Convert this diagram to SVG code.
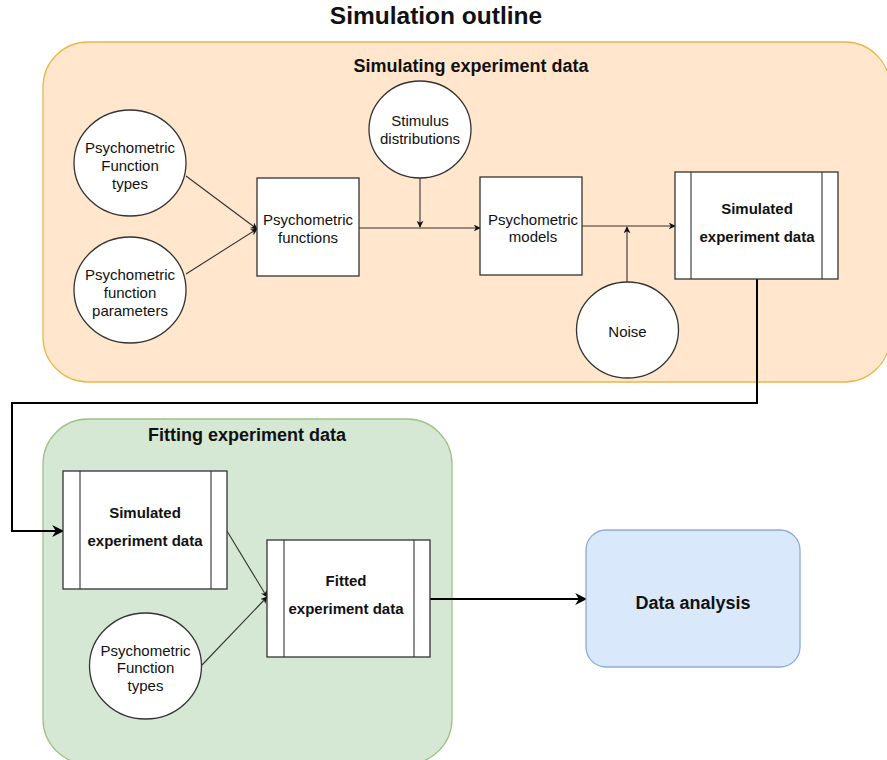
<svg xmlns="http://www.w3.org/2000/svg" width="887" height="760" viewBox="0 0 887 760">
<style>
text{font-family:"Liberation Sans",Arial,sans-serif;fill:#111;text-anchor:middle}
.n{font-size:15px}
.b{font-size:15px;font-weight:bold}
.h{font-size:18px;font-weight:bold}
.node{fill:#fff;stroke:#333;stroke-width:1.3}
.thin{fill:none;stroke:#333;stroke-width:1.1}
.thick{fill:none;stroke:#000;stroke-width:2}
</style>
<defs>
<marker id="a" viewBox="0 0 10 10" refX="9" refY="5" markerWidth="7" markerHeight="7" orient="auto" markerUnits="userSpaceOnUse">
<path d="M0,0 L10,5 L0,10 L3,5 z" fill="#111"/>
</marker>
<marker id="A" viewBox="0 0 10 10" refX="9" refY="5" markerWidth="12" markerHeight="12" orient="auto" markerUnits="userSpaceOnUse">
<path d="M0,0 L10,5 L0,10 L3,5 z" fill="#000"/>
</marker>
</defs>
<rect width="887" height="760" fill="#fff"/>
<text x="436" y="24" style="font-size:24.5px;font-weight:bold">Simulation outline</text>

<g id="sim-group">
<rect x="43" y="42" width="847" height="340" rx="45" fill="#ffe6cc" stroke="#eab84a" stroke-width="1.3"/>
<text class="h" x="471" y="72">Simulating experiment data</text>
</g>
<g id="fit-group">
<rect x="43" y="419" width="409" height="345" rx="45" fill="#d5e8d4" stroke="#9dc386" stroke-width="1.3"/>
<text class="h" x="247" y="441">Fitting experiment data</text>
</g>

<g id="connectors">
<path class="thin" d="M186,176 L257,229" marker-end="url(#a)"/>
<path class="thin" d="M186,274 L257,229" marker-end="url(#a)"/>
<path class="thin" d="M359,228 L480,228" marker-end="url(#a)"/>
<path class="thin" d="M420,178 L420,227" marker-end="url(#a)"/>
<path class="thin" d="M582,226 L675,226" marker-end="url(#a)"/>
<path class="thin" d="M627,282 L627,227" marker-end="url(#a)"/>
<path class="thick" d="M757,279 L757,403 L12,403 L12,531 L63,531" marker-end="url(#A)"/>
<path class="thin" d="M227,531 L267,597" marker-end="url(#a)"/>
<path class="thin" d="M202,665 L267,597" marker-end="url(#a)"/>
<path class="thick" d="M430,599 L586,599" marker-end="url(#A)"/>
</g>

<g id="pf-types">
<ellipse class="node" cx="130" cy="163" rx="56" ry="53"/>
<text class="n" x="130" y="153">Psychometric</text>
<text class="n" x="130" y="171">Function</text>
<text class="n" x="130" y="189">types</text>
</g>
<g id="pf-params">
<ellipse class="node" cx="130" cy="290" rx="56" ry="53"/>
<text class="n" x="130" y="280">Psychometric</text>
<text class="n" x="130" y="298">function</text>
<text class="n" x="130" y="316">parameters</text>
</g>
<g id="pf-functions">
<rect class="node" x="257" y="178" width="102" height="98"/>
<text class="n" x="308" y="225">Psychometric</text>
<text class="n" x="308" y="243">functions</text>
</g>
<g id="stimulus">
<ellipse class="node" cx="420" cy="129.5" rx="51" ry="48.5"/>
<text class="n" x="420" y="126">Stimulus</text>
<text class="n" x="420" y="144">distributions</text>
</g>
<g id="pf-models">
<rect class="node" x="480" y="177" width="102" height="98"/>
<text class="n" x="533" y="225">Psychometric</text>
<text class="n" x="533" y="242">models</text>
</g>
<g id="noise">
<ellipse class="node" cx="627.5" cy="330" rx="51" ry="48"/>
<text class="n" x="627.5" y="337">Noise</text>
</g>
<g id="sim-data">
<rect class="node" x="675" y="172" width="163" height="107"/>
<line class="thin" x1="691" y1="172" x2="691" y2="279"/>
<line class="thin" x1="822" y1="172" x2="822" y2="279"/>
<text class="b" x="757" y="214">Simulated</text>
<text class="b" x="757" y="242">experiment data</text>
</g>
<g id="sim-data-2">
<rect class="node" x="63" y="471" width="164" height="118"/>
<line class="thin" x1="80" y1="471" x2="80" y2="589"/>
<line class="thin" x1="211" y1="471" x2="211" y2="589"/>
<text class="b" x="145" y="518">Simulated</text>
<text class="b" x="145" y="546">experiment data</text>
</g>
<g id="fitted-data">
<rect class="node" x="267" y="540" width="163" height="117"/>
<line class="thin" x1="284" y1="540" x2="284" y2="657"/>
<line class="thin" x1="414" y1="540" x2="414" y2="657"/>
<text class="b" x="346" y="586">Fitted</text>
<text class="b" x="346" y="614">experiment data</text>
</g>
<g id="pf-types-2">
<ellipse class="node" cx="145.5" cy="666" rx="56" ry="53"/>
<text class="n" x="145.5" y="656">Psychometric</text>
<text class="n" x="145.5" y="673">Function</text>
<text class="n" x="145.5" y="691">types</text>
</g>
<g id="data-analysis">
<rect x="586" y="530" width="214" height="137" rx="20" fill="#dae8fc" stroke="#8eaadb" stroke-width="1.3"/>
<text class="h" x="693" y="609">Data analysis</text>
</g>
</svg>
